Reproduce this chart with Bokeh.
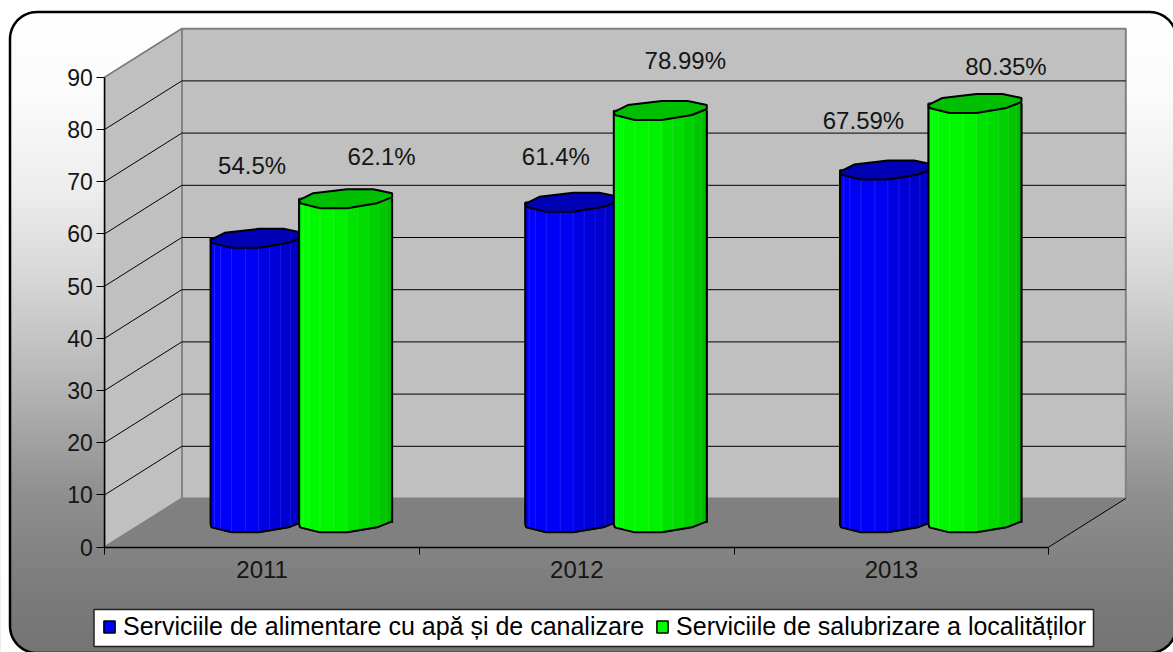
import numpy as np
from bokeh.core.properties import value
from bokeh.embed import file_html
from bokeh.models import FixedTicker, Legend, LegendItem, LinearAxis, Range1d
from bokeh.plotting import figure
from bokeh.resources import INLINE

years = ["2011", "2012", "2013"]
alimentare = [54.5, 61.4, 67.59]
salubrizare = [62.1, 78.99, 80.35]
label_alimentare = ["54.5%", "61.4%", "67.59%"]
label_salubrizare = ["62.1%", "78.99%", "80.35%"]
name_alimentare = "Serviciile de alimentare cu apă și de canalizare"
name_salubrizare = "Serviciile de salubrizare a localităților"
y_ticks = [0, 10, 20, 30, 40, 50, 60, 70, 80, 90]

W, H = 1173, 652
FONT = "Liberation Sans"
TEXT = "#151515"
ORIGIN_X, UNIT_X = 104.3, 314.67
ORIGIN_Y, UNIT_Y = 546.5, 5.22
X0, Y0, X1, Y1 = 0, 0, W, H


def dx(px):
    return np.asarray(px, dtype=float) / UNIT_X


def dy(px):
    return np.asarray(px, dtype=float) / UNIT_Y


def sx(px):
    return (np.asarray(px, dtype=float) - ORIGIN_X) / UNIT_X


def sy(px):
    return (ORIGIN_Y - np.asarray(px, dtype=float)) / UNIT_Y


DEPTH_X, DEPTH_Y = float(dx(77)), float(dy(48.5))
N = len(years)
YMAX = max(y_ticks)

p = figure(width=W, height=H, output_backend="svg", toolbar_location=None,
           x_range=Range1d(float(sx(X0)), float(sx(X1))),
           y_range=Range1d(float(sy(Y1)), float(sy(Y0))),
           min_border=0, outline_line_color=None, x_axis_location=None,
           y_axis_location=None)
p.grid.visible = False

# Panel gradient
rows = np.arange(Y1, Y0, -1.0)[::-1]
grey = np.interp(rows[::-1], [10, 90, 190, 290, 390, 490, 590, 655],
                 [255, 252, 238, 212, 180, 145, 124, 116]).astype(np.uint32)
img = (255 << 24) | (grey << 16) | (grey << 8) | grey
p.image_rgba(image=[img.reshape(-1, 1).astype(np.uint32)], x=float(sx(X0)), y=float(sy(Y1)),
             dw=float(dx(W)), dh=float(dy(H)))

# Rounded panel
L, T, R, B, RAD = 9.5, 11.5, 1176, 652.5, 27
t = np.linspace(0, np.pi / 2, 16)
rx = np.concatenate([L + RAD - RAD * np.cos(t), R - RAD + RAD * np.sin(t),
                     R - RAD + RAD * np.cos(t), L + RAD - RAD * np.sin(t)])
ry = np.concatenate([T + RAD - RAD * np.sin(t), T + RAD - RAD * np.cos(t),
                     B - RAD + RAD * np.sin(t), B - RAD + RAD * np.cos(t)])
rx, ry = np.append(rx, rx[0]), np.append(ry, ry[0])
p.multi_polygons(xs=[[[list(sx([X0 - 5, X1 + 5, X1 + 5, X0 - 5])), list(sx(rx))]]],
                 ys=[[[list(sy([Y0 - 5, Y0 - 5, Y1 + 5, Y1 + 5])), list(sy(ry))]]],
                 fill_color="white", line_color=None)
p.line(sx(rx), sy(ry), line_color="#000000", line_width=2.5)

# Walls and floor
wall_colour, edge_colour = "#c0c0c0", "#808080"
p.patch([DEPTH_X, N + DEPTH_X, N + DEPTH_X, DEPTH_X],
        [DEPTH_Y, DEPTH_Y, YMAX + DEPTH_Y, YMAX + DEPTH_Y],
        fill_color=wall_colour, line_color=edge_colour, line_width=2)
p.patch([0, DEPTH_X, DEPTH_X, 0], [0, DEPTH_Y, YMAX + DEPTH_Y, YMAX],
        fill_color=wall_colour, line_color=edge_colour, line_width=1.5)
p.patch([0, DEPTH_X, N + DEPTH_X, N], [0, DEPTH_Y, DEPTH_Y, 0],
        fill_color="#808080", line_color=None)
grid = [v for v in y_ticks if 0 < v < YMAX]
p.segment(x0=[DEPTH_X] * len(grid), y0=[v + DEPTH_Y for v in grid],
          x1=[N + DEPTH_X] * len(grid), y1=[v + DEPTH_Y for v in grid],
          line_color="#000000", line_width=1)
p.segment(x0=[0] * len(grid), y0=grid, x1=[DEPTH_X] * len(grid),
          y1=[v + DEPTH_Y for v in grid], line_color="#000000", line_width=1)
p.segment(x0=[N], y0=[0], x1=[N + DEPTH_X], y1=[DEPTH_Y], line_color="#000000", line_width=1)
p.segment(x0=[0, 0], y0=[YMAX, 0], x1=[DEPTH_X, DEPTH_X], y1=[YMAX + DEPTH_Y, DEPTH_Y],
          line_color=edge_colour, line_width=1.5)

# Cylinders
TOP_X = np.array([0, 14, 48, 74, 93, 93, 78, 48, 21, 1], dtype=float)
TOP_Y = np.array([1.6, -5.4, -9.4, -9.4, -5.4, -1.4, 4.6, 9.6, 9.6, 4.6])
FRONT_X = np.array([0, 1, 21, 48, 78, 93], dtype=float)
FRONT_Y = np.array([1.6, 4.6, 9.6, 9.6, 4.6, -1.4])
EDGES = [0, 4, 10, 21, 35, 48, 59, 70, 80, 88, 93]
SHADE = [1.0, 1.0, 0.98, 0.97, 0.95, 0.90, 0.86, 0.82, 0.78, 0.74]


def colour(rgb, k):
    return "#%02x%02x%02x" % tuple(int(c * k) for c in rgb)


def cylinders(values, left_shift, rgb, top_rgb):
    bx, by, sxs, sys, cols, lines, tx, ty, ox, oy = [], [], [], [], [], [], [], [], [], []
    for i, v in enumerate(values):
        left = i + 0.5 + DEPTH_X / 2 + float(dx(left_shift))
        mid = DEPTH_Y / 2
        top = v + mid
        curve_x = left + dx(FRONT_X)
        curve_y = mid - dy(FRONT_Y)
        ox.append(list(np.r_[left, curve_x, left + dx(93), left + dx(93)]))
        oy.append(list(np.r_[top, curve_y, mid, top]))
        bx.append(ox[-1])
        by.append(oy[-1])
        for a, b, k in zip(EDGES[:-1], EDGES[1:], SHADE):
            ya = mid - float(dy(np.interp(a, FRONT_X, FRONT_Y)))
            yb = mid - float(dy(np.interp(b, FRONT_X, FRONT_Y)))
            sxs.append([left + float(dx(a)), left + float(dx(b)), left + float(dx(b)), left + float(dx(a))])
            sys.append([top, top, yb, ya])
            cols.append(colour(rgb, k))
            lines.append(colour([min(255, c + 60) for c in rgb], k))
        tx.append(list(left + dx(TOP_X)))
        ty.append(list(top - dy(TOP_Y)))
    body = p.patches(bx, by, fill_color=colour(rgb, 1), line_color="#000000", line_width=1.5)
    p.patches(sxs, sys, fill_color=cols, line_color=lines, line_width=0.4)
    p.multi_line(ox, oy, line_color="#000000", line_width=2)
    p.patches(tx, ty, fill_color=colour(top_rgb, 1), line_color="#000000", line_width=2)
    return body


r_blue = cylinders(alimentare, -90, (0, 0, 255), (0, 0, 180))
r_green = cylinders(salubrizare, -1.5, (0, 255, 0), (0, 190, 0))

# Data labels: offsets from the top of each cylinder, in screen pixels
label_dx = [[-5, -16, -23], [36, 25, 31]]
label_dy = [[73, 46, 49], [42, 50, 37]]
for series, (vals, labs, shift) in enumerate([(alimentare, label_alimentare, -43.5),
                                              (salubrizare, label_salubrizare, 45)]):
    xs = [i + 0.5 + DEPTH_X / 2 + float(dx(shift + label_dx[series][i])) for i in range(N)]
    ys = [vals[i] + DEPTH_Y / 2 + float(dy(label_dy[series][i])) for i in range(N)]
    p.text(xs, ys, text=labs, text_font=value(FONT), text_font_size="24px", text_color=TEXT,
           text_align="center", text_baseline="middle")

# Axes
yaxis = LinearAxis(fixed_location=0, ticker=FixedTicker(ticks=y_ticks), bounds=(0, YMAX))
yaxis.axis_line_color = "#000000"
yaxis.axis_line_width = 1.5
yaxis.major_tick_line_color = "#000000"
yaxis.major_tick_in = 0
yaxis.major_tick_out = 8
yaxis.minor_tick_line_color = None
yaxis.major_label_standoff = 4
yaxis.major_label_text_font = FONT
yaxis.major_label_text_font_size = "23px"
yaxis.major_label_text_color = TEXT
p.add_layout(yaxis, "left")

xticks = LinearAxis(fixed_location=0, ticker=FixedTicker(ticks=list(range(N + 1))), bounds=(0, N))
xticks.axis_line_color = "#000000"
xticks.axis_line_width = 1.5
xticks.major_tick_line_color = "#000000"
xticks.major_tick_in = 0
xticks.major_tick_out = 7
xticks.minor_tick_line_color = None
xticks.major_label_text_font_size = "0px"
xticks.major_label_text_color = None
p.add_layout(xticks, "below")

centres = [i + 0.5 for i in range(N)]
xlabels = LinearAxis(fixed_location=0, ticker=FixedTicker(ticks=centres),
                     major_label_overrides={c: y for c, y in zip(centres, years)})
xlabels.axis_line_color = None
xlabels.major_tick_line_color = None
xlabels.minor_tick_line_color = None
xlabels.major_tick_in = 0
xlabels.major_tick_out = 0
xlabels.major_label_standoff = 14
xlabels.major_label_text_font = FONT
xlabels.major_label_text_font_size = "24px"
xlabels.major_label_text_color = TEXT
p.add_layout(xlabels, "below")

# Legend: its box is drawn as a glyph, the entries float transparently on it
p.quad(left=[float(sx(93.5))], right=[float(sx(1093))], top=[float(sy(609))], bottom=[float(sy(646))],
       fill_color="#ffffff", line_color="#222222", line_width=1.5)
legend = Legend(items=[LegendItem(label=value(name_alimentare), renderers=[r_blue]),
                       LegendItem(label=value(name_salubrizare), renderers=[r_green])],
                orientation="horizontal", location=(102, 11), margin=0, padding=9, spacing=11,
                glyph_width=14, glyph_height=15, label_standoff=7, label_height=19,
                label_text_font=FONT, label_text_font_size="25px", label_text_color="#000000",
                border_line_color=None, background_fill_alpha=0)
p.add_layout(legend)

open("out.html", "w").write(file_html(p, INLINE))
